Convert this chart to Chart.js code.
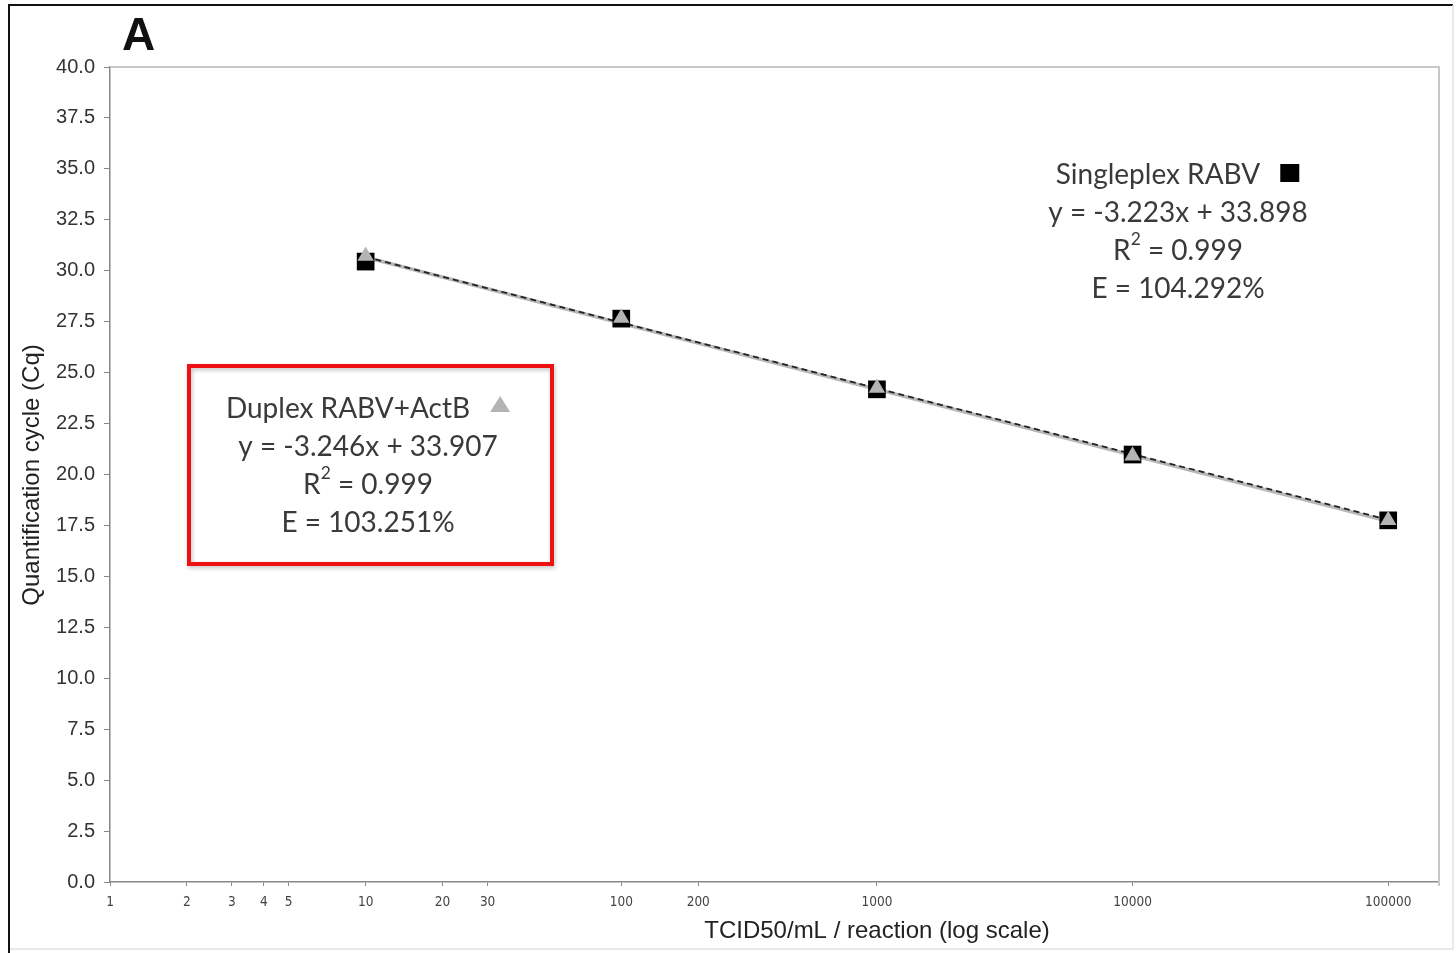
<!DOCTYPE html>
<html lang="en">
<head>
    <meta charset="UTF-8">
    <title>Standard curve - RABV</title>
    <script src="https://cdn.jsdelivr.net/npm/chart.js"></script>
    <style>
        body { margin: 0; background: #fff; }
        #wrap { position: relative; width: 1456px; height: 953px; }
    </style>
</head>
<body>
    <div id="wrap"><canvas id="stdCurve"></canvas></div>

    <script>
        // Verduennungsstufen (TCID50/mL / reaction) und gemessene Cq-Werte
        const doses = [10, 100, 1000, 10000, 100000];
        const singleplexCq = [30.45, 27.65, 24.18, 20.98, 17.75];
        const duplexCq = [30.72, 27.68, 24.25, 20.92, 17.75];

        const trendX = [10, 100000];
        const singleplexTrend = [30.68, 17.78];
        const duplexTrend = [30.66, 17.70];

        // Achsenbeschriftung
        const xTicks = [1, 2, 3, 4, 5, 10, 20, 30, 100, 200, 1000, 10000, 100000];
        const yMin = 0, yMax = 40, yStep = 2.5;

        const singleplexText = ['Singleplex RABV', 'y = -3.223x + 33.898', 'R2 = 0.999', 'E = 104.292%'];
        const duplexText = ['Duplex RABV+ActB', 'y = -3.246x + 33.907', 'R2 = 0.999', 'E = 103.251%'];

        const pts = (xs, ys) => xs.map((x, i) => ({ x: x, y: ys[i] }));

        const annoFont = 'Lato, "Open Sans", sans-serif';
        const textColor = '#3a3a3a';

        // R2 mit hochgestellter 2 zeichnen
        function drawLine(ctx, str, cx, cy, size) {
            const parts = str.startsWith('R2') ? [{ t: 'R' }, { t: '2', sup: true }, { t: str.slice(2) }] : [{ t: str }];
            let total = 0;
            parts.forEach(p => {
                ctx.font = (p.sup ? size * 0.62 : size) + 'px ' + annoFont;
                p.w = ctx.measureText(p.t).width;
                total += p.w;
            });
            let x = cx - total / 2;
            ctx.textAlign = 'left';
            ctx.textBaseline = 'middle';
            ctx.fillStyle = textColor;
            parts.forEach(p => {
                ctx.font = (p.sup ? size * 0.62 : size) + 'px ' + annoFont;
                ctx.fillText(p.t, x, p.sup ? cy - size * 0.42 : cy);
                x += p.w;
            });
        }

        function drawBlock(ctx, lines, cx, ys, size, marker) {
            // erste Zeile mit Symbol
            ctx.font = size + 'px ' + annoFont;
            const w = ctx.measureText(lines[0]).width;
            const gap = 20, mw = 20;
            const left = cx - (w + gap + mw) / 2;
            ctx.textAlign = 'left';
            ctx.textBaseline = 'middle';
            ctx.fillStyle = textColor;
            ctx.fillText(lines[0], left, ys[0]);
            const mx = left + w + gap;
            if (marker === 'square') {
                ctx.fillStyle = '#000';
                ctx.fillRect(mx, ys[0] - 11, 19, 18);
            } else {
                ctx.fillStyle = '#b4b4b4';
                ctx.beginPath();
                ctx.moveTo(mx + 10, ys[0] - 13);
                ctx.lineTo(mx + 20, ys[0] + 3);
                ctx.lineTo(mx, ys[0] + 3);
                ctx.closePath();
                ctx.fill();
            }
            for (let i = 1; i < lines.length; i++) drawLine(ctx, lines[i], cx, ys[i], size);
        }

        const decorPlugin = {
            id: 'decor',
            beforeDraw(chart) {
                const ctx = chart.ctx;
                ctx.save();
                ctx.fillStyle = '#fff';
                ctx.fillRect(0, 0, chart.width, chart.height);
                ctx.restore();
            },
            afterDraw(chart) {
                const ctx = chart.ctx;
                const a = chart.chartArea;
                ctx.save();

                // Rahmen des Bildes
                ctx.strokeStyle = '#111';
                ctx.lineWidth = 2;
                ctx.beginPath();
                ctx.moveTo(9, 953); ctx.lineTo(9, 5); ctx.lineTo(1453, 5);
                ctx.stroke();
                ctx.strokeStyle = '#e2e2e2';
                ctx.lineWidth = 1.5;
                ctx.beginPath();
                ctx.moveTo(1453, 5); ctx.lineTo(1453, 949); ctx.lineTo(10, 949);
                ctx.stroke();

                // Plotbereich oben / rechts
                ctx.strokeStyle = '#c8c8c8';
                ctx.lineWidth = 2;
                ctx.beginPath();
                ctx.moveTo(a.left, a.top); ctx.lineTo(a.right, a.top); ctx.lineTo(a.right, a.bottom + 4);
                ctx.stroke();

                // Panel-Buchstabe
                ctx.fillStyle = '#111';
                ctx.font = 'bold 46px "Liberation Sans", Arial, sans-serif';
                ctx.textAlign = 'left';
                ctx.textBaseline = 'alphabetic';
                ctx.fillText('A', 122, 50);

                // Achsentitel
                ctx.fillStyle = '#222';
                ctx.font = '24px "Liberation Sans", Arial, sans-serif';
                ctx.textAlign = 'center';
                ctx.textBaseline = 'middle';
                ctx.fillText('TCID50/mL / reaction (log scale)', 877, 931);
                ctx.save();
                ctx.translate(32, 475);
                ctx.rotate(-Math.PI / 2);
                ctx.fillText('Quantification cycle (Cq)', 0, 0);
                ctx.restore();

                // Singleplex Textblock
                drawBlock(ctx, singleplexText, 1178, [175, 213, 251, 289], 28, 'square');

                // Duplex Textblock mit rotem Rahmen
                ctx.save();
                ctx.shadowColor = 'rgba(0,0,0,0.25)';
                ctx.shadowBlur = 4;
                ctx.shadowOffsetX = 1;
                ctx.shadowOffsetY = 2;
                ctx.strokeStyle = '#ee1111';
                ctx.lineWidth = 4;
                ctx.strokeRect(189, 366, 363, 198);
                ctx.restore();
                drawBlock(ctx, duplexText, 368, [409, 447, 485, 523], 28, 'triangle');

                ctx.restore();
            }
        };

        const ctx = document.getElementById('stdCurve');
        new Chart(ctx, {
            type: 'scatter',
            data: {
                datasets: [
                    {
                        label: 'Duplex RABV+ActB',
                        data: pts(doses, duplexCq),
                        pointStyle: 'triangle',
                        pointRadius: 9.5,
                        backgroundColor: '#b4b4b4',
                        borderColor: '#b4b4b4',
                        borderWidth: 0
                    },
                    {
                        label: 'Singleplex RABV',
                        data: pts(doses, singleplexCq),
                        pointStyle: 'rect',
                        pointRadius: 12.5,
                        backgroundColor: '#000',
                        borderColor: '#000',
                        borderWidth: 0
                    },
                    {
                        label: 'Trend Singleplex',
                        data: pts(trendX, singleplexTrend),
                        showLine: true,
                        pointRadius: 0,
                        borderColor: '#222',
                        borderWidth: 1.8,
                        borderDash: [6, 4]
                    },
                    {
                        label: 'Trend Duplex',
                        data: pts(trendX, duplexTrend),
                        showLine: true,
                        pointRadius: 0,
                        borderColor: '#b8b8b8',
                        borderWidth: 3.5
                    }
                ]
            },
            options: {
                responsive: true,
                maintainAspectRatio: false,
                animation: false,
                layout: { padding: { top: 67, right: 17, left: 0, bottom: 0 } },
                plugins: {
                    legend: { display: false },
                    tooltip: { enabled: false }
                },
                scales: {
                    x: {
                        type: 'logarithmic',
                        min: 1,
                        max: 158000,
                        afterBuildTicks: s => { s.ticks = xTicks.map(v => ({ value: v })); },
                        afterFit: s => { s.height = 71; },
                        grid: { display: true, drawOnChartArea: false, drawTicks: true, tickLength: 4, color: '#888' },
                        border: { display: true, color: '#888', width: 1.5 },
                        ticks: {
                            autoSkip: false,
                            maxRotation: 0,
                            padding: 8,
                            color: '#444',
                            font: { family: '"Liberation Sans Narrow", "DejaVu Sans Condensed", sans-serif', size: 13.5 },
                            callback: v => String(v)
                        }
                    },
                    y: {
                        min: yMin,
                        max: yMax,
                        afterFit: s => { s.width = 110; },
                        grid: { display: true, drawOnChartArea: false, drawTicks: true, tickLength: 6, color: '#888' },
                        border: { display: true, color: '#888', width: 1.5 },
                        ticks: {
                            stepSize: yStep,
                            padding: 9,
                            color: '#333',
                            font: { family: '"Liberation Sans", Arial, sans-serif', size: 20 },
                            callback: v => v.toFixed(1)
                        }
                    }
                }
            },
            plugins: [decorPlugin]
        });
    </script>
</body>
</html>
